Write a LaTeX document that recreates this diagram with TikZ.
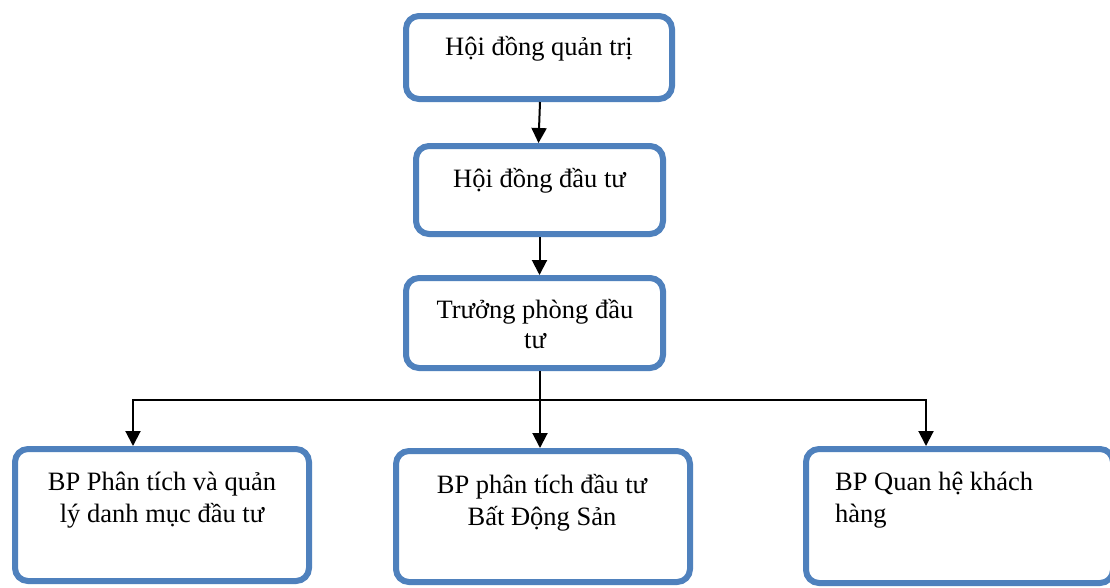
\documentclass[tikz,border=0pt]{standalone}
\usepackage{fontspec}
\setmainfont{Liberation Serif}
\usetikzlibrary{arrows.meta}
\definecolor{boxblue}{HTML}{4F81BD}
\begin{document}
\begin{tikzpicture}[x=1pt,y=-1pt,
  orgbox/.style={draw=boxblue, line width=6pt, rounded corners=13pt, fill=white, inner sep=0pt},
  caption/.style={font=\fontsize{26.5}{31.5}\selectfont, inner sep=0pt, anchor=base},
  link/.style={line width=2pt, -{Triangle[length=15pt,width=15pt]}}]

\clip (0,0) rectangle (1110,587);
\fill[white] (0,0) rectangle (1110,587);

% boxes of the chart
\node[orgbox, minimum width=266pt, minimum height=83pt] (hdqt) at (539,57.5) {};
\node[orgbox, minimum width=247pt, minimum height=88pt] (hddt) at (539.5,190) {};
\node[orgbox, minimum width=257pt, minimum height=90pt] (tpdt) at (534.5,323) {};
\node[orgbox, minimum width=294pt, minimum height=132pt] (bpdm) at (162,515) {};
\node[orgbox, minimum width=294pt, minimum height=131pt] (bpbds) at (543,516.5) {};
\node[orgbox, minimum width=307pt, minimum height=134pt] (bpkh) at (959.5,516) {};

% labels, top-aligned inside each box
\node[caption] (t1) at (539,55) {Hội đồng quản trị};
\node[caption] (t2) at (539.5,187) {Hội đồng đầu tư};
\node[caption] (t3a) at (535,318) {Trưởng phòng đầu};
\node[caption] (t3b) at (535,348) {tư};
\node[caption] (t4a) at (162,490) {BP Phân tích và quản};
\node[caption] (t4b) at (162,522) {lý danh mục đầu tư};
\node[caption] (t5a) at (542,493) {BP phân tích đầu tư};
\node[caption] (t5b) at (542,525) {Bất Động Sản};
\node[caption, anchor=base west] (t6a) at (835,490) {BP Quan hệ khách};
\node[caption, anchor=base west] (t6b) at (835,522) {hàng};

% connectors
\coordinate (split) at (540,400);
\draw[link] ([xshift=1pt]hdqt.south) -- ([xshift=-1pt]hddt.north);
\draw[link] (hddt.south) -- (hddt.south |- tpdt.north);
\draw[line width=2pt] (split |- tpdt.south) -- (split);
\draw[link] (split) -| ([xshift=-29pt]bpdm.north);
\draw[link] (split) -- (split |- bpbds.north);
\draw[link] (split) -| ([xshift=-33.5pt]bpkh.north);
\end{tikzpicture}
\end{document}
